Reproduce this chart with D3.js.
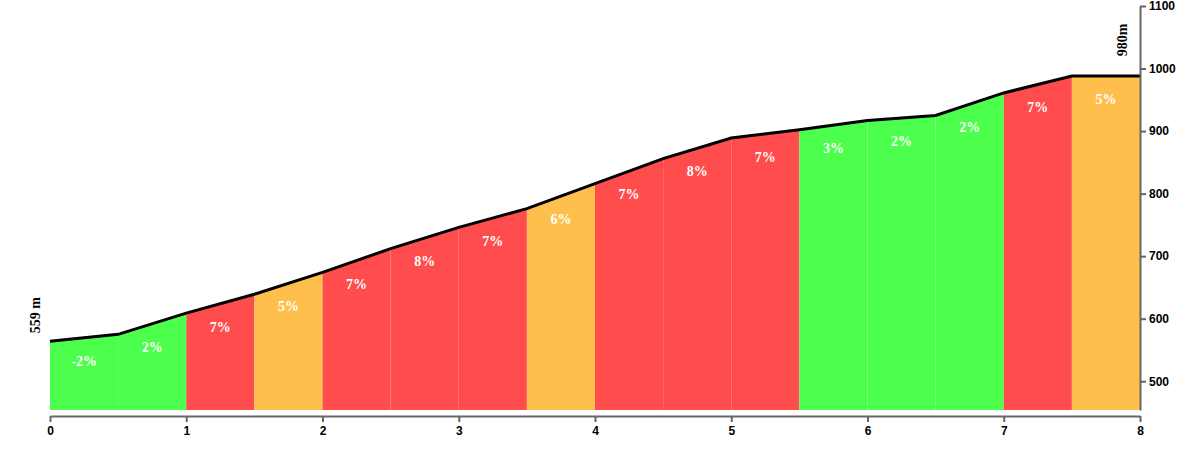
<!DOCTYPE html>
<html lang="en">
<head>
<meta charset="UTF-8">
<script src="https://d3js.org/d3.v7.min.js"></script>
<style>
  body { margin: 0; background: #fff; }
  .tick text { font-family: "Liberation Sans", Arial, sans-serif; font-weight: bold; font-size: 12px; fill: #000; }
  .domain, .tick line { stroke: #666; stroke-width: 2px; }
  .grade { font-family: "Liberation Serif", "Times New Roman", serif; font-weight: bold; font-size: 14px; fill: #fff; }
  .endlabel { font-family: "Liberation Serif", "Times New Roman", serif; font-weight: bold; font-size: 14px; fill: #000; }
</style>
</head>
<body>
<div id="chart"></div>
<script>
// distance (km) and elevation (m) sample points
var distances = [0, 0.5, 1, 1.5, 2, 2.5, 3, 3.5, 4, 4.5, 5, 5.5, 6, 6.5, 7, 7.5, 8];
var elevations = [564, 575, 609, 639, 674, 712, 746, 776, 816, 856, 889, 902, 917, 925, 961, 988, 988];
// grade label per 0.5 km segment
var grades = ["-2%", "2%", "7%", "5%", "7%", "8%", "7%", "6%", "7%", "8%", "7%", "3%", "2%", "2%", "7%", "5%"];
var segColors = ["#4cff4c", "#4cff4c", "#ff4c4c", "#ffbf4c", "#ff4c4c", "#ff4c4c", "#ff4c4c", "#ffbf4c",
                 "#ff4c4c", "#ff4c4c", "#ff4c4c", "#4cff4c", "#4cff4c", "#4cff4c", "#ff4c4c", "#ffbf4c"];
var startLabel = "559 m", endLabel = "980m";

var width = 1200, height = 455;
var svg = d3.select("#chart").append("svg").attr("width", width).attr("height", height);

var x = d3.scaleLinear().domain([0, 8]).range([50, 1140]);
var y = d3.scaleLinear().domain([454, 1100]).range([410, 6]);

// coloured segments
var segs = d3.range(grades.length);
svg.selectAll(".seg").data(segs).enter().append("path")
  .attr("fill", function(i) { return segColors[i]; })
  .attr("d", function(i) {
    return "M" + x(distances[i]) + "," + y(454) +
           "L" + x(distances[i]) + "," + y(elevations[i]) +
           "L" + x(distances[i + 1]) + "," + y(elevations[i + 1]) +
           "L" + x(distances[i + 1]) + "," + y(454) + "Z";
  });

// profile line
var line = d3.line().x(function(d, i) { return x(distances[i]); }).y(function(d) { return y(d); });
svg.append("path").datum(elevations).attr("d", line)
  .attr("fill", "none").attr("stroke", "#000").attr("stroke-width", 3);

// grade labels
svg.selectAll(".grade").data(segs).enter().append("text")
  .attr("class", "grade").attr("text-anchor", "middle")
  .attr("x", function(i) { return x((distances[i] + distances[i + 1]) / 2); })
  .attr("y", function(i) { return y((elevations[i] + elevations[i + 1]) / 2) + 28; })
  .text(function(i) { return grades[i]; });

// axes
svg.append("g").attr("transform", "translate(0,416)")
  .call(d3.axisBottom(x).ticks(8).tickSize(6).tickSizeOuter(0).tickPadding(4));
svg.append("g").attr("transform", "translate(1140,0)")
  .call(d3.axisRight(y).tickValues([500, 600, 700, 800, 900, 1000, 1100]).tickFormat(d3.format("d"))
    .tickSize(6).tickSizeOuter(0));

// start / end elevation labels
svg.append("text").attr("class", "endlabel").attr("text-anchor", "middle")
  .attr("transform", "translate(40," + (y(elevations[0]) - 26) + ") rotate(-90)").text(startLabel);
svg.append("text").attr("class", "endlabel").attr("text-anchor", "middle")
  .attr("transform", "translate(1127," + (y(elevations[16]) - 36) + ") rotate(-90)").text(endLabel);
</script>
</body>
</html>
